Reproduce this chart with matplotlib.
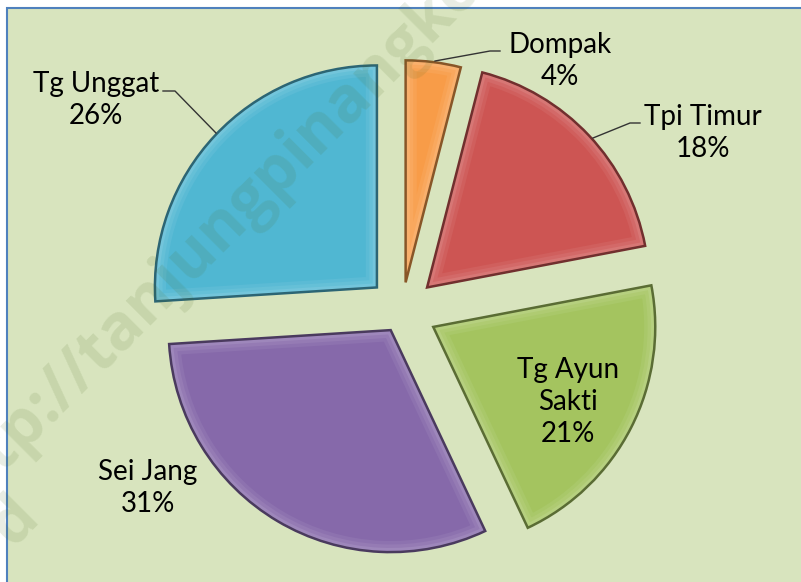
import numpy as np
import matplotlib.pyplot as plt
from matplotlib.patches import Rectangle, Wedge
from matplotlib.colors import to_rgb

# data
categories = ["Dompak", "Tpi Timur", "Tg Ayun Sakti", "Sei Jang", "Tg Unggat"]
shares = [4, 18, 21, 31, 26]
display_names = ["Dompak", "Tpi Timur", "Tg Ayun\nSakti", "Sei Jang", "Tg Unggat"]

colors = ["#f89c48", "#cd5553", "#a4c45f", "#8669aa", "#50b7d2"]
explode_frac = [0.13, 0.155, 0.158, 0.10, 0.155]

W, H = 801, 582
R = 222
bg = "#d8e4be"


def shade(c, f):
    r, g, b = to_rgb(c)
    if f < 1:
        return (r * f, g * f, b * f)
    t = f - 1
    return (r + (1 - r) * t, g + (1 - g) * t, b + (1 - b) * t)


def img(x, y):
    # image pixel (y down) -> axes coords (y up)
    return x, H - y


fig = plt.figure(figsize=(W / 100, H / 100), dpi=100, facecolor="white")
ax = fig.add_axes([0, 0, 1, 1])

ax.add_patch(Rectangle((7, -10), W, H - 8 + 10, facecolor=bg,
                       edgecolor="#4f81bd", lw=1.5, zorder=0))

cx, cy = img(402, 311)
# pie explode is absolute here, so scale by radius
wedges, _ = ax.pie(shares, colors=colors, explode=[e * R for e in explode_frac],
                   startangle=90, counterclock=False, radius=R, center=(cx, cy),
                   frame=True, wedgeprops=dict(edgecolor="none", linewidth=0))
for w, c in zip(wedges, colors):
    w.set_zorder(2)
    # soft bevel: a few clipped strokes getting lighter toward the edge
    for lw, f in [(16, 1.06), (11, 1.12), (6, 1.2)]:
        rim = Wedge(w.center, w.r, w.theta1, w.theta2, facecolor="none",
                    edgecolor=shade(c, f), lw=lw, zorder=3)
        ax.add_patch(rim)
        rim.set_clip_path(w)
    edge = Wedge(w.center, w.r, w.theta1, w.theta2, facecolor="none",
                 edgecolor=shade(c, 0.55), lw=1.8, zorder=4)
    ax.add_patch(edge)

ax.set_xlim(0, W)
ax.set_ylim(0, H)
ax.axis("off")

# labels
label_pos = [(560, 61), (703, 133), (568, 402), (148, 488), (96, 100)]
for name, val, (x, y) in zip(display_names, shares, label_pos):
    ax.text(*img(x, y), "%s\n%d%%" % (name, val), ha="center", va="center",
            fontsize=20, family="Lato", color="black", linespacing=1.3,
            zorder=6)

# leader lines
leaders = [
    [(500, 51), (490, 51), (435, 61)],
    [(640, 123), (630, 123), (593, 138)],
    [(163, 91), (175, 91), (216, 133)],
]
for pts in leaders:
    xs = [p[0] for p in pts]
    ys = [H - p[1] for p in pts]
    ax.plot(xs, ys, color="#333333", lw=1, zorder=5)

# watermark
wm = dict(rotation=45, rotation_mode="anchor", ha="left", va="baseline",
          fontsize=46, family="Open Sans", weight="bold", color="#4a6a20",
          alpha=0.12, zorder=7)
ax.text(*img(-48, 520), "http://tanjungpinangkota.go.id", **wm)
ax.text(*img(12, 548), "d", **wm)

fig.savefig("out.png", dpi=100, facecolor="white")
